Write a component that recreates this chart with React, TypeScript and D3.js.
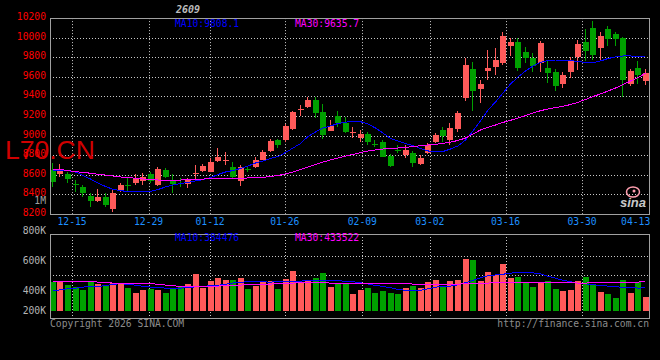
import React from 'react';
import * as d3 from 'd3';

// ---------- data ----------
const opens = [8648,8604,8604,8502,8478,8383,8332,8369,8250,8437, 8498,8513,8539,8604,8495,8648,8546,8520,8505,8612, 8638,8631,8743,8740,8682,8539,8662,8676,8751,8846, 8955,8955,9064,9265,9295,9363,9238,9050,9200,9132, 9026,8978,9016,8917,8937,8791,8856,8802,8825,8710, 8819,8938,9057,8955,9064,9387,9677,9476,9660,9704, 9745,9915,9956,9851,9796,9738,9687,9653,9527,9653, 9800,9953,10096,9898,10089,10038,10000,9527,9693,9561];
const closes = [8529,8638,8553,8496,8410,8332,8376,8291,8416,8495, 8492,8570,8580,8539,8659,8580,8505,8513,8556,8618, 8689,8733,8784,8746,8574,8682,8656,8751,8835,8945, 8904,9098,9244,9271,9363,9234,9006,9098,9126,9040, 9032,9013,8931,8911,8784,8689,8850,8853,8717,8768, 8904,9006,8996,9080,9228,9721,9458,9524,9693,9772, 10017,9956,9694,9796,9714,9949,9642,9509,9619,9772, 9935,9867,9823,10017,9987,9987,9568,9660,9619,9636];
const highs = [8717,8707,8631,8546,8500,8410,8451,8410,8444,8513, 8564,8605,8615,8631,8682,8666,8604,8564,8570,8699, 8707,8768,8870,8835,8733,8699,8689,8778,8853,8962, 8965,9118,9254,9312,9397,9391,9323,9159,9251,9193, 9084,9057,9040,8955,8955,8812,8904,8904,8846,8802, 8927,9029,9091,9125,9251,9789,9749,9568,9874,9892, 10055,9994,9994,9902,9841,9966,9772,9677,9653,9806, 9976,10089,10170,10055,10122,10055,10010,9677,9762,9677];
const lows = [8478,8580,8519,8427,8376,8273,8325,8273,8222,8421, 8427,8495,8495,8513,8488,8564,8410,8478,8468,8556, 8631,8625,8733,8699,8564,8488,8628,8666,8751,8835, 8876,8938,9057,9200,9279,9176,8962,9050,9088,9023, 8972,8937,8904,8886,8778,8676,8819,8768,8676,8696, 8812,8927,8938,8904,9040,9353,9254,9330,9568,9619, 9721,9813,9663,9745,9646,9652,9534,9458,9483,9585, 9670,9765,9772,9765,9918,9918,9397,9510,9527,9517];
const volumes = [429600,440000,408000,394400,368000,440000,413600,408000,421600,413600, 386400,346400,368000,373600,368000,341600,386400,400000,418400,496000, 381600,440000,466400,448000,448000,466400,376000,400000,432000,440000, 376000,456000,520000,432000,448000,461600,506400,394400,413600,413600, 338400,368000,386400,346400,360000,346400,338400,386400,400000,386400, 432000,448000,394400,440000,448000,616000,608000,442400,514400,488000, 576000,466400,474400,432000,394400,421600,440000,376000,360000,368000, 440000,474400,408000,354400,338400,304000,448000,346400,434400,314400];
const ma10 = [8648,8645,8641,8628,8592,8556,8515,8480,8451,8437, 8429,8427,8427,8429,8449,8475,8495,8510,8523,8536, 8551,8570,8602,8628,8643,8664,8689,8720,8740,8766, 8786,8827,8873,8919,8991,9037,9077,9098,9123,9136, 9149,9142,9118,9077,9026,8970,8945,8919,8899,8868, 8843,8835,8837,8863,8894,8955,9047,9149,9261,9343, 9435,9527,9598,9660,9711,9747,9767,9772,9772,9767, 9757,9747,9745,9762,9787,9803,9813,9813,9811,9808.1];
const ma30 = [8655,8653,8643,8631,8625,8615,8604,8597,8587,8577, 8572,8564,8556,8551,8546,8541,8541,8546,8549,8553, 8556,8559,8562,8562,8564,8564,8567,8570,8574,8582, 8592,8608,8628,8653,8679,8705,8730,8751,8771,8791, 8807,8827,8843,8853,8863,8868,8873,8880,8888,8897, 8904,8911,8921,8934,8950,8975,9016,9057,9085,9108, 9134,9156,9180,9203,9231,9254,9272,9287,9299,9317, 9340,9369,9399,9425,9455,9486,9522,9557,9593,9635.7];
const volMa10 = [362000,370000,378000,382000,391600,394000,398000,402000,414000,418000, 414000,406000,398000,391600,386000,383600,383600,383600,386000,394000, 398000,402000,406000,414000,423600,430000,434000,434000,432400,431600, 434000,436400,438000,439600,442000,444400,447600,444400,442000,438000, 434000,426000,415600,404400,396400,386000,372400,366000,364400,364400, 378000,390000,398000,399600,410000,426000,446000,466000,482000,488400, 494000,503600,506000,506000,504400,498000,478000,462000,446000,434000, 422000,418000,410000,404400,399600,394000,390000,386000,383600,384476];
const volMa30 = [436400,436400,436400,436400,434000,434000,431600,428400,423600,423600, 423600,423600,423600,420400,412400,407600,402000,396400,396400,396400, 396400,399600,399600,402000,404400,407600,410000,410000,412400,415600, 418000,420400,423600,426000,428400,428400,426000,423600,423600,420400, 418000,418000,418000,418000,418000,418000,418000,418000,415600,412400, 412400,412400,412400,412400,412400,420400,423600,423600,423600,426000, 431600,431600,431600,431600,431600,431600,431600,431600,430000,426000, 423600,423600,426000,428400,430000,431600,431600,431600,431600,433522];

const priceTicks = [8200,8400,8600,8800,9000,9200,9400,9600,9800,10000,10200];
const volTicks = [800000,600000,400000,200000];
const dateLabels = ['12-15','12-29','01-12','01-26','02-09','03-02','03-16','03-30','04-13'];
const datePos = [3.05,13.25,21.45,31.4,41.75,50.75,60.85,71.05,80];

const UP = '#ff5a5a';
const DOWN = '#00a000';
const GRID = '#c8c8c8';
const FRAME = '#a0a0a0';
const MONO = '"DejaVu Sans Mono", "Liberation Mono", monospace';

export default function App() {
  const n = closes.length;
  const x = d3.scaleLinear().domain([0, n]).range([49.25, 649.25]);
  const y = d3.scaleLinear().domain([8200, 10200]).range([213.9, 18.1]);
  const yv = d3.scaleLinear().domain([200000, 600000]).range([311, 261]);
  const yvLabel = d3.scaleLinear().domain([800000, 400000]).range([233.7, 293.7]);

  const left = 50, right = 649;
  const mainTop = y(10200), mainBot = y(8200);
  const volTop = 234, volBot = 318;
  const volBase = yv(200000);

  const cx = (i: number) => x(i + 0.5);
  const lineP = (arr: number[], sy: (v: number) => number) =>
    d3.line<number>().x((_, i) => cx(i)).y((v) => sy(v))(arr) || '';

  const gridXs = datePos.slice(0, 8).map((p) => Math.round(x(p)) + 0.5);
  const volGridYs = [0.26, 0.49].map((f) => Math.round(volTop + f * (volBot - volTop)) + 0.5);

  return (
    <svg width={660} height={360} style={{ position: 'absolute', left: 0, top: 0, display: 'block' }}
      fontFamily={MONO}>
      <rect x={0} y={0} width={660} height={360} fill="#000" />

      {/* title */}
      <text x={176} y={13} fontSize={10} fill="#bbbbbb" fontStyle="italic" fontWeight="bold">2609</text>

      {/* main gridlines */}
      {priceTicks.slice(1, -1).map((t) => (
        <line key={'h' + t} x1={left} x2={right} y1={Math.round(y(t)) + 0.5} y2={Math.round(y(t)) + 0.5}
          stroke={GRID} strokeDasharray="1,2" />
      ))}
      {gridXs.map((gx, k) => (
        <line key={'v' + k} x1={gx} x2={gx} y1={mainTop} y2={mainBot} stroke={GRID} strokeDasharray="1,2" />
      ))}

      {/* volume gridlines */}
      {volGridYs.map((gy, k) => (
        <line key={'vh' + k} x1={left} x2={right} y1={gy} y2={gy} stroke={GRID} strokeDasharray="1,2" />
      ))}
      {gridXs.map((gx, k) => (
        <line key={'vv' + k} x1={gx} x2={gx} y1={volTop} y2={volBot} stroke={GRID} strokeDasharray="1,2" />
      ))}

      {/* watermark */}
      <text x={5} y={159} fontFamily='"Liberation Sans", Arial, sans-serif' fontSize={26.5} fill="#d00000">L70.CN</text>

      {/* candles */}
      {closes.map((c, i) => {
        const o = opens[i];
        const col = c >= o ? UP : DOWN;
        const bx = Math.round(cx(i) - 3);
        const top = Math.round(y(Math.max(o, c)));
        const bot = Math.round(y(Math.min(o, c)));
        return (
          <g key={'c' + i} shapeRendering="crispEdges">
            <rect x={bx + 2} width={1} y={Math.round(y(highs[i]))} height={Math.max(1, Math.round(y(lows[i])) - Math.round(y(highs[i])))} fill={col} />
            <rect x={bx} width={6} y={top} height={Math.max(1, bot - top)} fill={col} />
          </g>
        );
      })}

      {/* MA lines main */}
      <path d={lineP(ma10, y)} fill="none" stroke="#0000ff" strokeWidth={1} shapeRendering="crispEdges" />
      <path d={lineP(ma30, y)} fill="none" stroke="#ff00ff" strokeWidth={1} shapeRendering="crispEdges" />

      {/* volume bars */}
      {volumes.map((v, i) => {
        const col = closes[i] >= opens[i] ? UP : DOWN;
        const bx = Math.round(cx(i) - 3);
        const top = Math.round(yv(v));
        return <rect key={'v' + i} x={bx} width={6} y={top} height={Math.round(volBase) - top} fill={col} shapeRendering="crispEdges" />;
      })}
      <path d={lineP(volMa10, yv)} fill="none" stroke="#0000ff" strokeWidth={1} shapeRendering="crispEdges" />
      <path d={lineP(volMa30, yv)} fill="none" stroke="#ff00ff" strokeWidth={1} shapeRendering="crispEdges" />

      {/* frames */}
      <rect x={left + 0.5} y={Math.round(mainTop) + 0.5} width={right - left} height={Math.round(mainBot) - Math.round(mainTop)} fill="none" stroke={FRAME} />
      <rect x={left + 0.5} y={volTop + 0.5} width={right - left} height={volBot - volTop} fill="none" stroke={FRAME} />

      {/* price labels */}
      {priceTicks.map((t) => (
        <text key={'pl' + t} x={46} y={y(t) + 2} textAnchor="end" fontSize={9.7} fill="#ff0000">{t}</text>
      ))}
      <text x={46} y={204} textAnchor="end" fontSize={9.7} fill="#a0a0a0">1M</text>

      {/* date labels */}
      {dateLabels.map((d, k) => (
        <text key={'d' + k} x={k === dateLabels.length - 1 ? x(datePos[k]) + 1 : x(datePos[k])} y={225}
          textAnchor={k === dateLabels.length - 1 ? 'end' : 'middle'} fontSize={9.7} fill="#1e90ff">{d}</text>
      ))}

      {/* volume labels */}
      {volTicks.map((t) => (
        <text key={'vl' + t} x={46} y={Math.min(yvLabel(t), 314)} textAnchor="end" fontSize={9.7} fill="#b4b4b4">{t / 1000}K</text>
      ))}

      {/* legends */}
      <text x={175} y={27} fontSize={9.7} fill="#0000ff">MA10:{ma10[n - 1].toFixed(1)}</text>
      <text x={295} y={27} fontSize={9.7} fill="#ff00ff">MA30:{ma30[n - 1].toFixed(1)}</text>
      <text x={175} y={241} fontSize={9.7} fill="#0000ff">MA10:{volMa10[n - 1]}</text>
      <text x={295} y={241} fontSize={9.7} fill="#ff00ff">MA30:{volMa30[n - 1]}</text>

      {/* sina logo */}
      <ellipse cx={633} cy={192} rx={6.5} ry={5} fill="none" stroke="#ff9fb0" strokeWidth={1.5} />
      <circle cx={634} cy={191} r={1.5} fill="#ff9fb0" />
      <text x={620} y={207} fontFamily='"Liberation Sans", Arial, sans-serif' fontSize={13} fontStyle="italic" fontWeight="bold" fill="#c8c8c8">sina</text>

      {/* footer */}
      <text x={50} y={327} fontSize={9.7} fill="#8c8c8c">Copyright 2026 SINA.COM</text>
      <text x={649} y={327} fontSize={9.7} textAnchor="end" fill="#8c8c8c">http://finance.sina.com.cn</text>
    </svg>
  );
}
